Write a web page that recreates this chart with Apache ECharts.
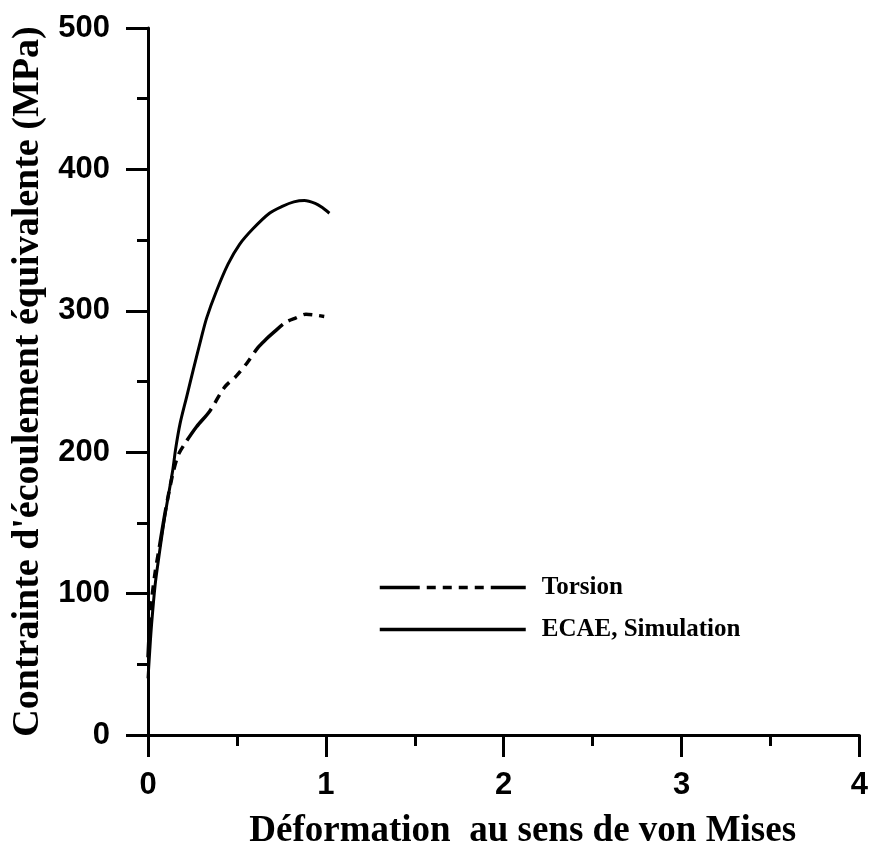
<!DOCTYPE html>
<html>
<head>
<meta charset="utf-8">
<script src="https://cdn.jsdelivr.net/npm/echarts@6/dist/echarts.min.js"></script>
<style>
html,body{margin:0;padding:0;background:#fff;}
#chart{width:871px;height:855px;}
</style>
</head>
<body>
<div id="chart"></div>
<script>
// Strain (von Mises) and equivalent flow stress (MPa)
const ecaeStrain = [0, 0.01, 0.02, 0.04, 0.06, 0.095, 0.14, 0.155, 0.18, 0.217, 0.254, 0.30, 0.33, 0.385, 0.45, 0.515, 0.59, 0.683, 0.758, 0.82, 0.879, 0.94, 0.98, 1.02];
const ecaeStress = [40, 60, 78, 106, 125, 155, 188, 202, 220, 239, 258, 281, 295, 314, 333, 347, 358, 369, 374, 377, 378, 376, 373, 369];

const torsionStrain = [0, 0.01, 0.02, 0.04, 0.06, 0.10, 0.14, 0.17, 0.207, 0.273, 0.347, 0.431, 0.497, 0.562, 0.618, 0.665, 0.70, 0.776, 0.832, 0.888, 0.94, 0.991];
const torsionStress = [55, 80, 95, 115, 130, 160, 185, 198, 206, 218, 229, 246, 254, 264, 274, 280, 284, 292, 295, 297.6, 297, 296];

const xTicks = [0, 1, 2, 3, 4];
const yTicks = [0, 100, 200, 300, 400, 500];

const seriesNames = ['Torsion', 'ECAE, Simulation'];
const xTitle = 'Déformation  au sens de von Mises';
const yTitle = "Contrainte d'écoulement équivalente (MPa)";

const pair = (xs, ys) => xs.map((x, i) => [x, ys[i]]);

const chart = echarts.init(document.getElementById('chart'));
const dashPattern = [40, 7, 9, 7, 9, 7, 9, 7, 9, 7];
const axisCommon = {
  axisLine: { show: true, lineStyle: { color: '#000', width: 3 } },
  axisTick: { show: true, inside: false, length: 22, lineStyle: { color: '#000', width: 3 } },
  minorTick: { show: true, splitNumber: 2, length: 11, lineStyle: { color: '#000', width: 3 } },
  splitLine: { show: false },
  minorSplitLine: { show: false }
};
chart.setOption({
  backgroundColor: '#fff',
  animation: false,
  grid: { left: 148, right: 9, top: 28, bottom: 114, containLabel: false },
  legend: {
    orient: 'vertical',
    left: 378,
    top: 575,
    padding: 0,
    itemWidth: 146,
    itemHeight: 14,
    itemGap: 17,
    data: seriesNames,
    itemStyle: { opacity: 0 },
    lineStyle: { width: 3.5 },
    textStyle: { fontFamily: 'Liberation Serif', fontWeight: 'bold', fontSize: 25, color: '#000', lineHeight: 25, padding: [0, 0, 0, 11] }
  },
  xAxis: Object.assign({
    type: 'value', min: xTicks[0], max: xTicks[xTicks.length - 1], interval: 1,
    name: xTitle, nameLocation: 'middle', nameGap: 78,
    nameTextStyle: { fontFamily: 'Liberation Serif', fontWeight: 'bold', fontSize: 37, color: '#000', padding: [0, 0, 0, 38] },
    axisLabel: { margin: 35, fontFamily: 'Liberation Sans', fontWeight: 'bold', fontSize: 31, color: '#000' }
  }, axisCommon),
  yAxis: Object.assign({
    type: 'value', min: yTicks[0], max: yTicks[yTicks.length - 1], interval: 100,
    name: yTitle, nameLocation: 'middle', nameGap: 100, nameRotate: 90,
    nameTextStyle: { fontFamily: 'Liberation Serif', fontWeight: 'bold', fontSize: 38, color: '#000' },
    axisLabel: { margin: 38, fontFamily: 'Liberation Sans', fontWeight: 'bold', fontSize: 31, color: '#000' }
  }, axisCommon),
  series: [
    {
      name: seriesNames[0], type: 'line', data: pair(torsionStrain, torsionStress),
      smooth: 0.3, symbol: 'none', color: '#000',
      lineStyle: { color: '#000', width: 3.5, type: dashPattern }
    },
    {
      name: seriesNames[1], type: 'line', data: pair(ecaeStrain, ecaeStress),
      smooth: 0.3, symbol: 'none', color: '#000',
      lineStyle: { color: '#000', width: 3, type: 'solid' }
    }
  ]
});
</script>
</body>
</html>
